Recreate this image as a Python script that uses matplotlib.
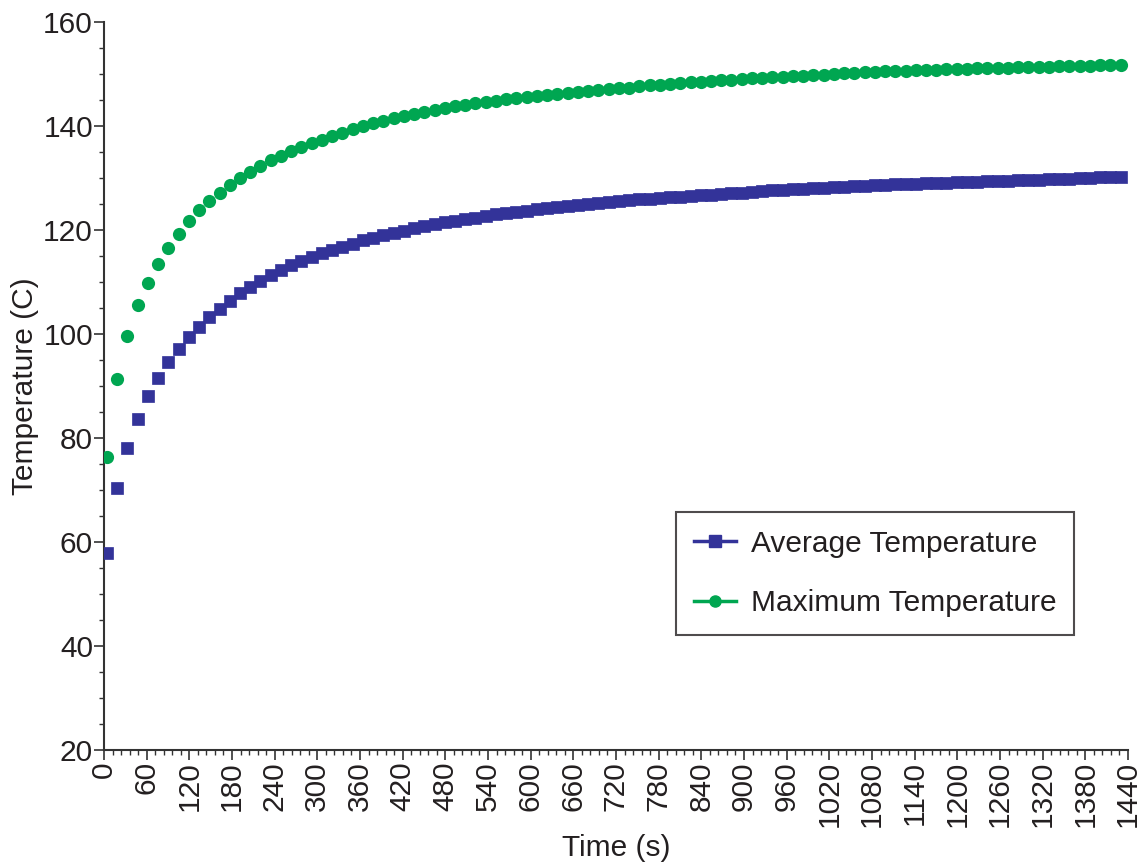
import numpy as np
import matplotlib.pyplot as plt
from matplotlib.lines import Line2D
from matplotlib.ticker import MultipleLocator

plt.rcParams['font.family'] = ['Liberation Sans', 'DejaVu Sans']

# sample times (s), 100 samples across the run
time = 4 + 14.4 * np.arange(100)

avg_temp = [57.8, 70.4, 78.1, 83.7, 88.0, 91.5, 94.6, 97.1, 99.5, 101.4,
            103.3, 104.9, 106.4, 107.8, 109.1, 110.2, 111.3, 112.3, 113.2, 114.0,
            114.8, 115.5, 116.2, 116.8, 117.4, 118.0, 118.5, 119.0, 119.5, 119.9,
            120.3, 120.7, 121.1, 121.5, 121.8, 122.1, 122.4, 122.7, 123.0, 123.2,
            123.5, 123.7, 124.0, 124.2, 124.4, 124.6, 124.8, 125.0, 125.2, 125.4,
            125.5, 125.7, 125.9, 126.0, 126.2, 126.3, 126.4, 126.6, 126.7, 126.8,
            127.0, 127.1, 127.2, 127.3, 127.5, 127.6, 127.7, 127.8, 127.9, 128.0,
            128.1, 128.2, 128.3, 128.4, 128.5, 128.6, 128.7, 128.8, 128.8, 128.9,
            129.0, 129.1, 129.1, 129.2, 129.3, 129.3, 129.4, 129.5, 129.5, 129.6,
            129.7, 129.7, 129.8, 129.8, 129.9, 130.0, 130.0, 130.1, 130.1, 130.2]

max_temp = [76.4, 91.3, 99.6, 105.5, 109.8, 113.4, 116.5, 119.2, 121.7, 123.8,
            125.6, 127.2, 128.7, 130.0, 131.2, 132.4, 133.4, 134.3, 135.2, 135.9,
            136.7, 137.3, 138.1, 138.7, 139.4, 140.0, 140.5, 141.0, 141.5, 141.9,
            142.3, 142.7, 143.1, 143.5, 143.8, 144.1, 144.4, 144.7, 144.9, 145.1,
            145.3, 145.5, 145.7, 145.9, 146.1, 146.3, 146.5, 146.7, 146.9, 147.1,
            147.3, 147.4, 147.6, 147.8, 147.9, 148.1, 148.2, 148.4, 148.5, 148.7,
            148.8, 148.9, 149.1, 149.2, 149.3, 149.4, 149.5, 149.6, 149.7, 149.8,
            149.9, 150.0, 150.1, 150.2, 150.3, 150.4, 150.5, 150.5, 150.6, 150.7,
            150.8, 150.8, 150.9, 151.0, 151.0, 151.1, 151.1, 151.2, 151.2, 151.3,
            151.3, 151.4, 151.4, 151.5, 151.5, 151.6, 151.6, 151.7, 151.7, 151.8]

blue = '#333399'
green = '#00a651'
fs = 21.5

fig = plt.figure(figsize=(11.47, 8.67), dpi=100)
ax = fig.add_axes([0.0907, 0.135, 0.8927, 0.8396])

ax.plot(time, avg_temp, 's', color=blue, ms=9, mec=blue, mew=0.5, zorder=3)
ax.plot(time, max_temp, 'o', color=green, ms=9.5, mec=green, mew=0, zorder=3)

ax.set_xlim(0, 1440)
ax.set_ylim(20, 160)
ax.xaxis.set_major_locator(MultipleLocator(60))
ax.xaxis.set_minor_locator(MultipleLocator(12))
ax.yaxis.set_major_locator(MultipleLocator(20))
ax.yaxis.set_minor_locator(MultipleLocator(5))

for s in ['top', 'right']:
    ax.spines[s].set_visible(False)
for s in ['left', 'bottom']:
    ax.spines[s].set_linewidth(1.5)
    ax.spines[s].set_color('#333333')

ax.tick_params(which='major', length=7, width=1.2, color='#333333', labelsize=fs, pad=1)
ax.tick_params(which='minor', length=3.5, width=1.0, color='#333333')
plt.setp(ax.get_xticklabels(), rotation=90)

ax.set_xlabel('Time (s)', fontsize=fs, labelpad=5, color='#231f20')
ax.set_ylabel('Temperature (C)', fontsize=fs, labelpad=3, color='#231f20')
for t in ax.get_xticklabels() + ax.get_yticklabels():
    t.set_color('#231f20')

handles = [Line2D([], [], color=blue, marker='s', ms=8, lw=2.5, label='Average Temperature'),
           Line2D([], [], color=green, marker='o', ms=8, lw=2.5, label='Maximum Temperature')]
leg = ax.legend(handles=handles, loc='upper left', bbox_to_anchor=(0.5586, 0.327),
                fontsize=fs, frameon=True, fancybox=False, handlelength=1.4,
                borderpad=0.6, labelspacing=1.05, handletextpad=0.5, borderaxespad=0)
leg.get_frame().set_edgecolor('#231f20')
leg.get_frame().set_linewidth(1.5)
for t in leg.get_texts():
    t.set_color('#231f20')

fig.savefig('out.png', dpi=100)
